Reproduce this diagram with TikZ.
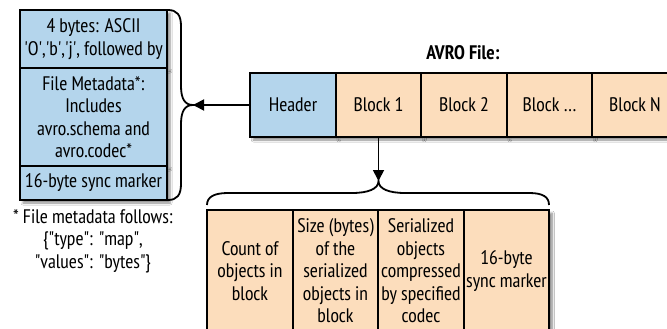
\documentclass[tikz,border=0pt]{standalone}
\usepackage{fontspec}
\setmainfont{PT Sans Narrow}
\usetikzlibrary{arrows.meta,shadows.blur}

\definecolor{hdrblue}{HTML}{B4D5EC}
\definecolor{blkorange}{HTML}{FCDDBC}

\newcommand{\sq}{\textquotesingle}
\newcommand{\dq}{\textquotedbl}

\tikzset{
  cell/.style={draw=black, line width=1.8pt, rectangle, inner sep=0pt,
    align=center, font=\fontsize{19.6}{22.5}\selectfont,
    blur shadow={shadow xshift=3pt, shadow yshift=-3pt, shadow blur steps=6, shadow opacity=45}},
  hdrcell/.style={cell, fill=hdrblue},
  blkcell/.style={cell, fill=blkorange, minimum width=85.5pt},
  brace/.style={draw=black, line width=1.8pt},
  link/.style={draw=black, line width=1.8pt, -{Triangle[length=11pt,width=11pt]}},
  plain/.style={align=center, inner sep=0pt, font=\fontsize{19.6}{22.5}\selectfont},
}

\begin{document}
\begin{tikzpicture}[x=1pt,y=-1pt]
\clip (0,0) rectangle (667,329);
\fill[white] (0,0) rectangle (667,329);

% header layout, stacked on the left
\node[hdrcell, minimum width=147pt, minimum height=58pt] (magic) at (93.5,39)
  {4 bytes: ASCII\\\sq O\sq,\sq b\sq,\sq j\sq, followed by};
\node[hdrcell, minimum width=147pt, minimum height=98pt] (meta) at (93.5,117)
  {File Metadata*:\\Includes\\avro.schema and\\avro.codec*};
\node[hdrcell, minimum width=147pt, minimum height=34pt] (hsync) at (93.5,183)
  {16-byte sync marker};

\node[plain] (note) at (93,241)
  {* File metadata follows:\\\{\dq type\dq: \dq map\dq,\\\dq values\dq: \dq bytes\dq\}};

% file layout
\node[plain, font=\fontsize{19.6}{22.5}\selectfont\bfseries] (title) at (463,53) {AVRO File:};
\node[hdrcell, minimum width=85.5pt, minimum height=64pt] (hdr) at (293,105) {Header};
\node[blkcell, minimum height=64pt] (b1) at (378.5,105) {Block 1};
\node[blkcell, minimum height=64pt] (b2) at (464,105) {Block 2};
\node[blkcell, minimum height=64pt] (b3) at (549.5,105) {Block \dots};
\node[blkcell, minimum height=64pt] (bn) at (635,105) {Block N};

% block layout
\node[blkcell, minimum height=122pt] (cnt) at (250,271) {Count of\\objects in\\block};
\node[blkcell, minimum height=122pt] (size) at (335.5,271) {Size (bytes)\\of the\\serialized\\objects in\\block};
\node[blkcell, minimum height=122pt] (data) at (421,271) {Serialized\\objects\\compressed\\by specified\\codec};
\node[blkcell, minimum height=122pt] (bsync) at (506.5,271) {16-byte\\sync marker};

% brace grouping the header fields
\coordinate (htip) at (193,105);
\draw[brace] (168,10) .. controls (177,10) and (181,15) .. (181,26)
  -- (181,86) .. controls (181,99) and (185,105) .. (htip)
  .. controls (185,105) and (181,111) .. (181,124)
  -- (181,184) .. controls (181,195) and (177,200) .. (168,200);

% brace grouping the block fields
\coordinate (btip) at (378.5,181);
\draw[brace] (207,205) .. controls (207,197) and (214,193) .. (228,193)
  -- (352,193) .. controls (368,193) and (378.5,189) .. (btip)
  .. controls (378.5,189) and (389,193) .. (405,193)
  -- (529,193) .. controls (543,193) and (549,197) .. (549,205);

% connectors
\draw[link] (hdr.west) -- (htip);
\draw[link] (b1.south) -- (btip);
\end{tikzpicture}
\end{document}
